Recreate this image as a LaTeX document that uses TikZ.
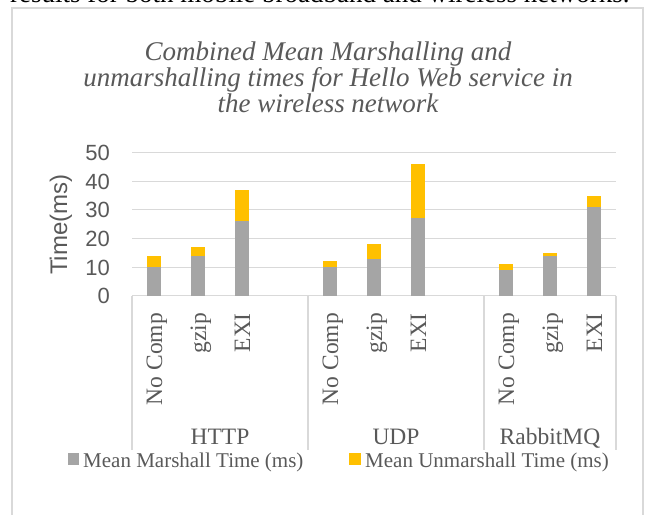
\documentclass[tikz,border=0pt]{standalone}
\usepackage{fontspec}
\setmainfont{Liberation Serif}
\newfontfamily\sansf{Liberation Sans}
\definecolor{txt}{HTML}{595959}
\definecolor{gridc}{HTML}{D9D9D9}
\definecolor{mgray}{HTML}{A5A5A5}
\definecolor{mgold}{HTML}{FFC000}
\tikzset{
  titletext/.style={font=\itshape\fontsize{27}{27}\selectfont, text=txt, inner sep=0, anchor=base},
  ticklab/.style={font=\sansf\fontsize{22}{22}\selectfont, text=txt, inner sep=0, anchor=base east},
  catlab/.style={font=\fontsize{23.5}{23.5}\selectfont, text=txt, inner sep=0, rotate=90, anchor=base east},
  grouplab/.style={font=\fontsize{23.5}{23.5}\selectfont, text=txt, inner sep=0, anchor=base},
  legtext/.style={font=\fontsize{21}{21}\selectfont, text=txt, inner sep=0, anchor=base west},
  gridline/.style={draw=gridc, line width=1.1pt},
}
\begin{document}
\begin{tikzpicture}[x=1pt,y=-1pt]
\useasboundingbox (0,0) rectangle (647,514);
% cut header text of the page
\node[font=\fontsize{27}{27}\selectfont, inner sep=0, anchor=base west] (header) at (10,2) {results for both mobile broadband and wireless networks.};
% chart frame
\draw[gridc, line width=1.5pt] (12,530) -- (12,8) -- (643,8) -- (643,530);
% title
\node[titletext] (t1) at (328,60) {Combined Mean Marshalling and};
\node[titletext] (t2) at (328,86.7) {unmarshalling times for Hello Web service in};
\node[titletext] (t3) at (328,112.5) {the wireless network};
% gridlines and tick labels
\foreach \v in {10,20,30,40,50} {
  \draw[gridline] (132,{295.7-2.86*\v}) -- (616,{295.7-2.86*\v});
}
\foreach \v in {0,10,20,30,40,50} {
  \node[ticklab] (tick\v) at (110,{295.7-2.86*\v+7.9}) {\v};
}
% axis title
\node[font=\sansf\fontsize{24}{24}\selectfont, text=txt, rotate=90, inner sep=0] (ytitle) at (61,224.7) {Time(ms)};
% category axis box
\draw[gridline] (132,295.7) -- (616,295.7);
\foreach \xx in {132,308,484,616} {
  \draw[gridline] (\xx,295.7) -- (\xx,450);
}
% bars
\foreach \s/\m/\t in {154/10/14, 198/14/17, 242/26/37, 330/10/12, 374/13/18, 418/27/46, 506/9/11, 550/14/15, 594/31/35} {
  \fill[mgray] ({\s-6.8},295.7) rectangle ({\s+6.8},{295.7-2.86*\m});
  \fill[mgold] ({\s-6.8},{295.7-2.86*\m}) rectangle ({\s+6.8},{295.7-2.86*\t});
}
% category labels
\foreach \s/\lab/\nm in {154/No Comp/c1, 198/gzip/c2, 242/EXI/c3, 330/No Comp/c4, 374/gzip/c5, 418/EXI/c6, 506/No Comp/c7, 550/gzip/c8, 594/EXI/c9} {
  \node[catlab] (\nm) at ({\s+8},313) {\lab};
}
\node[grouplab] (g1) at (220,444) {HTTP};
\node[grouplab] (g2) at (396,444) {UDP};
\node[grouplab] (g3) at (550,444) {RabbitMQ};
% legend
\fill[mgray] (68.3,453) rectangle (79.3,465);
\node[legtext] (leg1) at (83,467.7) {Mean Marshall Time (ms)};
\fill[mgold] (349.3,453) rectangle (360.7,465);
\node[legtext] (leg2) at (365,467.7) {Mean Unmarshall Time (ms)};
\end{tikzpicture}
\end{document}
